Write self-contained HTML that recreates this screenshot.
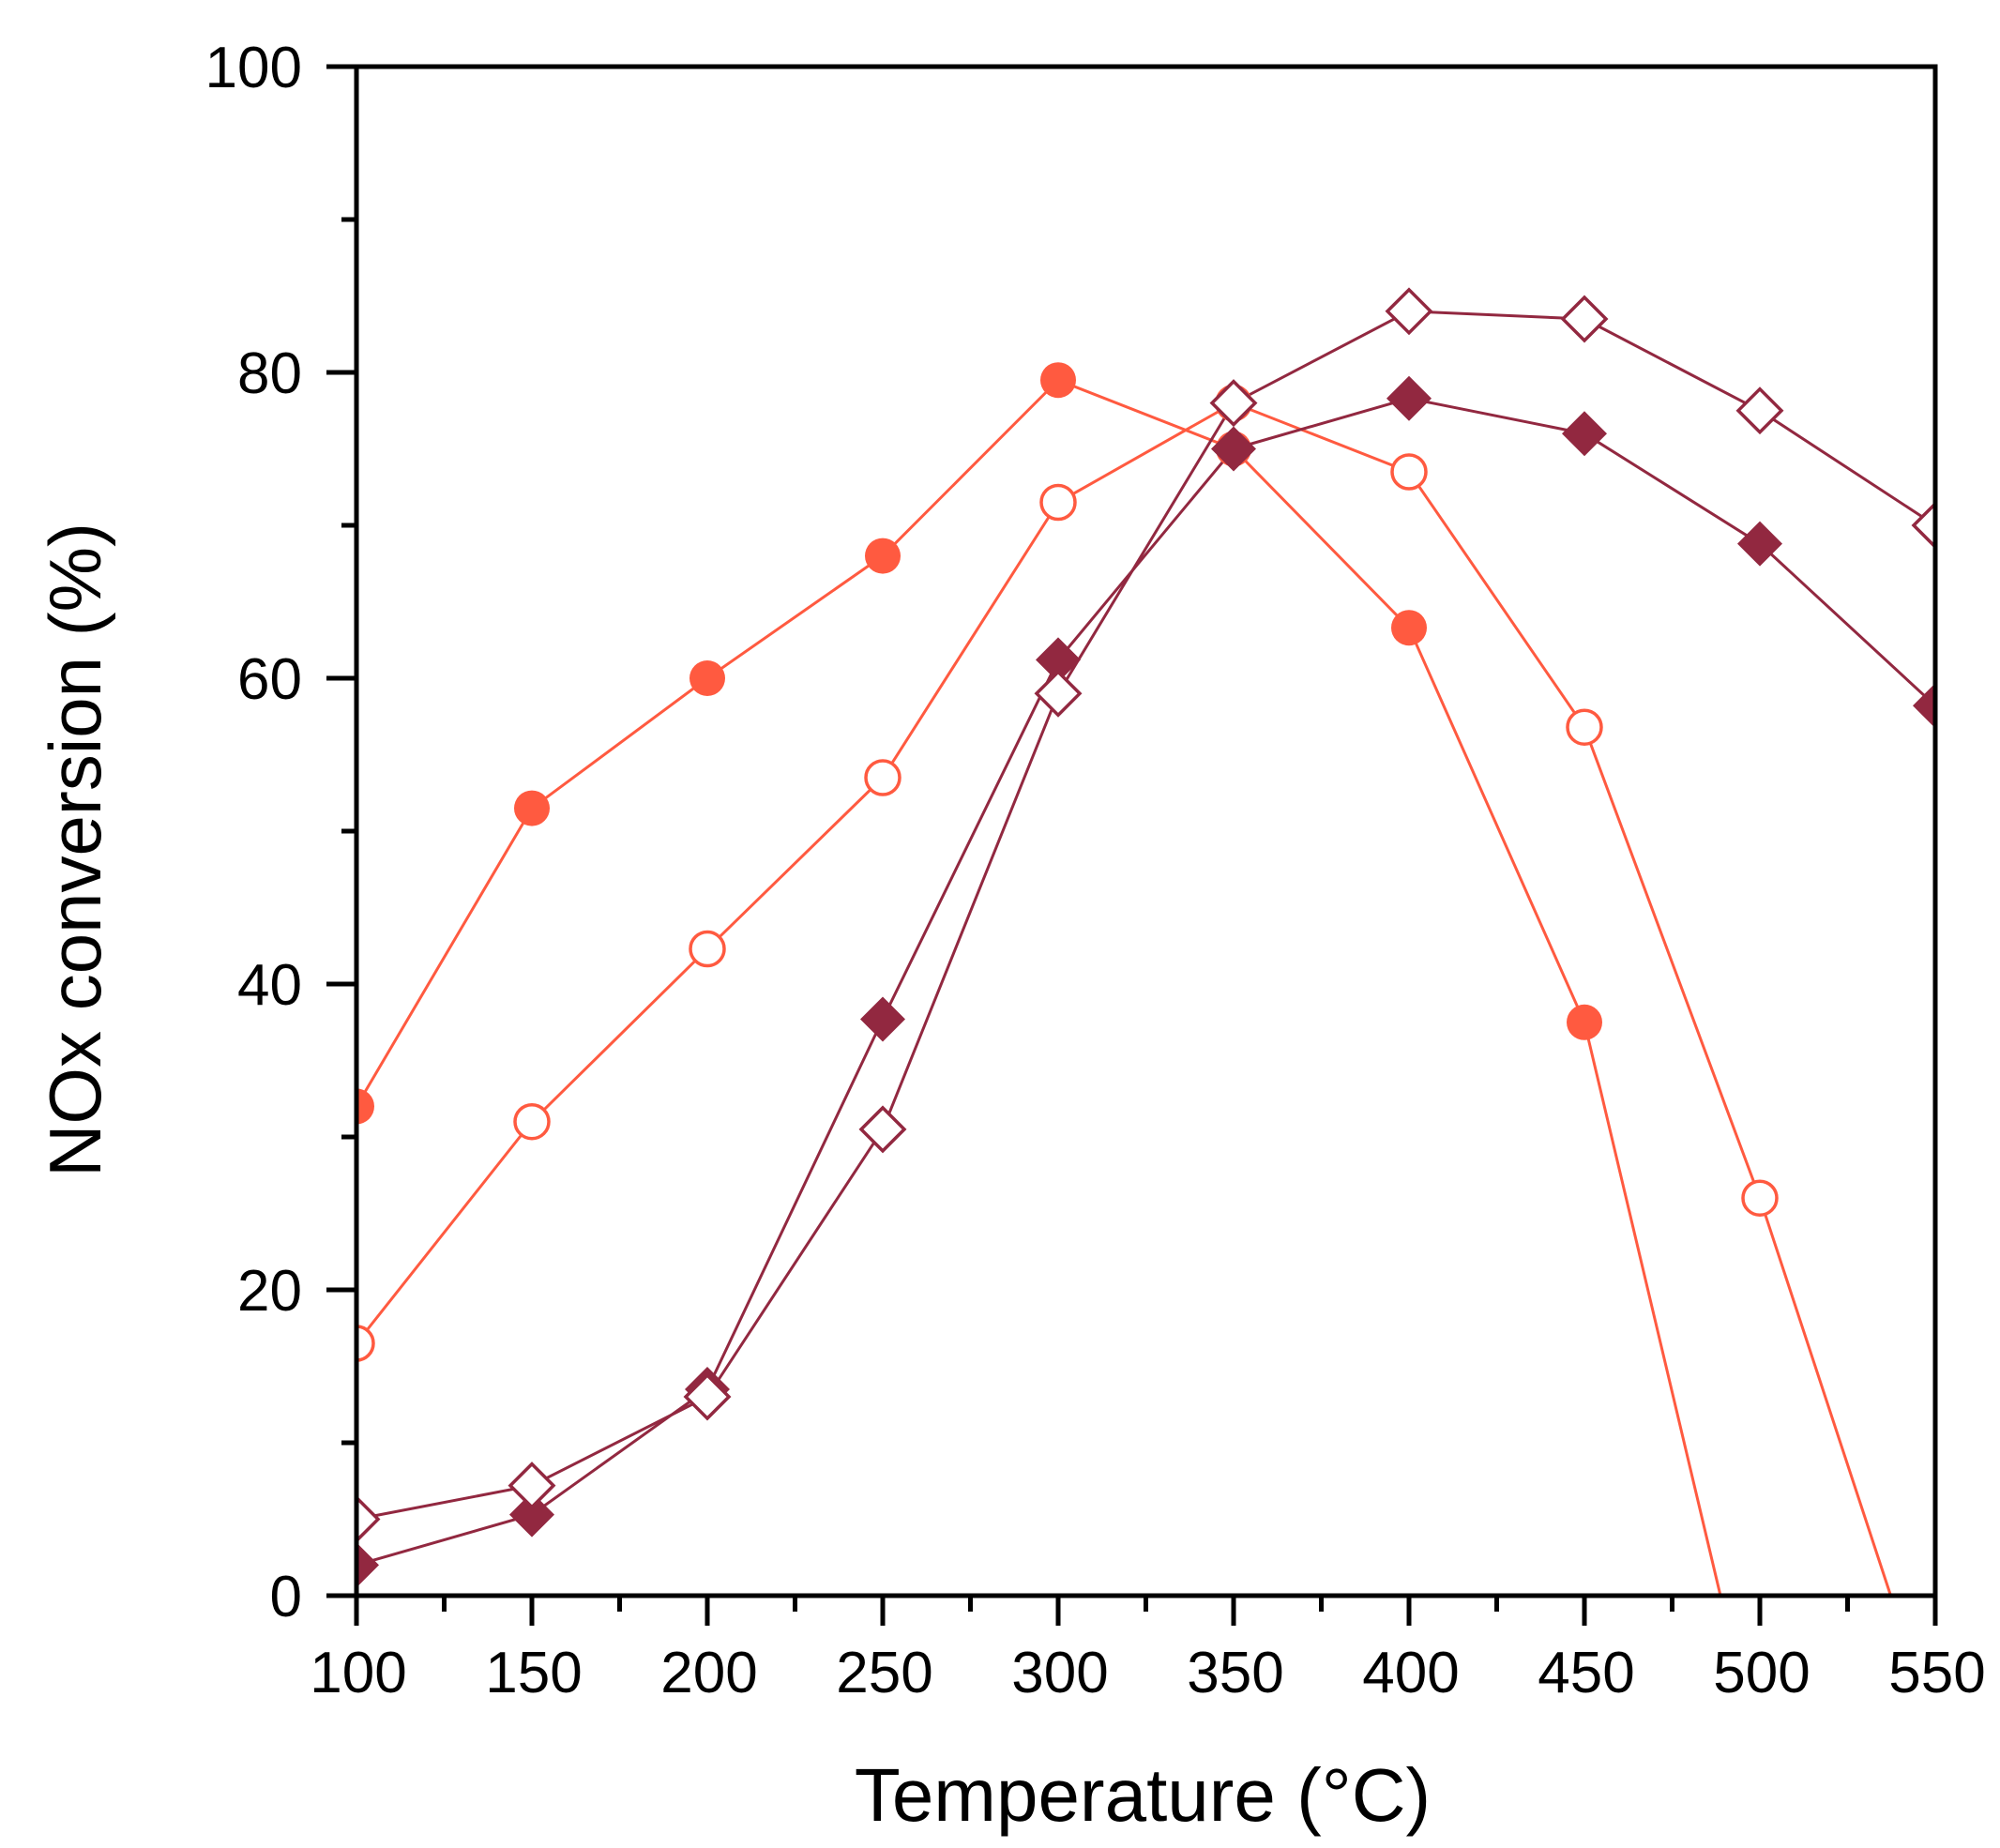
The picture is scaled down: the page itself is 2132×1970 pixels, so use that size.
<!DOCTYPE html>
<html><head><meta charset="utf-8"><style>html,body{margin:0;padding:0;background:#fff}svg{display:block}</style></head>
<body>
<svg width="2132" height="1970" viewBox="0 0 2132 1970" xmlns="http://www.w3.org/2000/svg" font-family="Liberation Sans, Arial, sans-serif">
<defs>
<clipPath id="pc"><rect x="380" y="71" width="1683" height="1630"/></clipPath>
</defs>
<g clip-path="url(#pc)" stroke-width="3" fill="none">
<polyline stroke="#FF5A40" points="380,1179.4 567,861.6 754,723 941,592.6 1128,405.2 1315,478.5 1502,669.2 1689,1089.8 1834,1701 1870,1850"/>
<polyline stroke="#FF5A40" points="380,1432 567,1195.7 754,1011.5 941,829 1128,535.5 1315,429.6 1502,503 1689,775.2 1876,1277.2 2015.5,1701 2050,1810"/>
<polyline stroke="#922840" points="380,1668.4 567,1614.6 754,1481 941,1086.5 1128,703.4 1315,478.5 1502,424.7 1689,462.2 1876,579.6 2063,752.3"/>
<polyline stroke="#922840" points="380,1619.5 567,1583.6 754,1489 941,1203.9 1128,739.3 1315,429.6 1502,331.8 1689,340 1876,437.7 2063,560"/>
<g fill="#FF5A40">
<circle cx="380" cy="1179.4" r="19"/><circle cx="567" cy="861.6" r="19"/><circle cx="754" cy="723" r="19"/><circle cx="941" cy="592.6" r="19"/><circle cx="1128" cy="405.2" r="19"/><circle cx="1315" cy="478.5" r="19"/><circle cx="1502" cy="669.2" r="19"/><circle cx="1689" cy="1089.8" r="19"/>
</g>
<g fill="#fff" stroke="#FF5A40" stroke-width="3.5">
<circle cx="380" cy="1432" r="18"/><circle cx="567" cy="1195.7" r="18"/><circle cx="754" cy="1011.5" r="18"/><circle cx="941" cy="829" r="18"/><circle cx="1128" cy="535.5" r="18"/><circle cx="1315" cy="429.6" r="18"/><circle cx="1502" cy="503" r="18"/><circle cx="1689" cy="775.2" r="18"/><circle cx="1876" cy="1277.2" r="18"/>
</g>
<g fill="#922840">
<path d="M380,1644.4l24,24l-24,24l-24,-24z"/><path d="M567,1590.6l24,24l-24,24l-24,-24z"/><path d="M754,1457l24,24l-24,24l-24,-24z"/><path d="M941,1062.5l24,24l-24,24l-24,-24z"/><path d="M1128,679.4l24,24l-24,24l-24,-24z"/><path d="M1315,454.5l24,24l-24,24l-24,-24z"/><path d="M1502,400.7l24,24l-24,24l-24,-24z"/><path d="M1689,438.2l24,24l-24,24l-24,-24z"/><path d="M1876,555.6l24,24l-24,24l-24,-24z"/><path d="M2063,728.3l24,24l-24,24l-24,-24z"/>
</g>
<g fill="#fff" stroke="#922840" stroke-width="3.5">
<path d="M380,1596.5l23,23l-23,23l-23,-23z"/><path d="M567,1560.6l23,23l-23,23l-23,-23z"/><path d="M754,1466l23,23l-23,23l-23,-23z"/><path d="M941,1180.9l23,23l-23,23l-23,-23z"/><path d="M1128,716.3l23,23l-23,23l-23,-23z"/><path d="M1315,406.6l23,23l-23,23l-23,-23z"/><path d="M1502,308.8l23,23l-23,23l-23,-23z"/><path d="M1689,317l23,23l-23,23l-23,-23z"/><path d="M1876,414.7l23,23l-23,23l-23,-23z"/><path d="M2063,537l23,23l-23,23l-23,-23z"/>
</g>
</g>
<g stroke="#000" stroke-width="5" fill="none">
<rect x="380" y="71" width="1683" height="1630"/>
<path d="M348,71h32M348,397h32M348,723h32M348,1049h32M348,1375h32M348,1701h32"/>
<path d="M364,234h16M364,560h16M364,886h16M364,1212h16M364,1538h16"/>
<path d="M380,1701v32M567,1701v32M754,1701v32M941,1701v32M1128,1701v32M1315,1701v32M1502,1701v32M1689,1701v32M1876,1701v32M2063,1701v32"/>
<path d="M473.5,1701v17M660.5,1701v17M847.5,1701v17M1034.5,1701v17M1221.5,1701v17M1408.5,1701v17M1595.5,1701v17M1782.5,1701v17M1969.5,1701v17"/>
</g>
<g font-size="62" fill="#000" text-anchor="end">
<text x="322" y="93">100</text><text x="322" y="419">80</text><text x="322" y="745">60</text><text x="322" y="1071">40</text><text x="322" y="1397">20</text><text x="322" y="1723">0</text>
</g>
<g font-size="62" fill="#000" text-anchor="middle">
<text x="382" y="1804">100</text><text x="569" y="1804">150</text><text x="756" y="1804">200</text><text x="943" y="1804">250</text><text x="1130" y="1804">300</text><text x="1317" y="1804">350</text><text x="1504" y="1804">400</text><text x="1691" y="1804">450</text><text x="1878" y="1804">500</text><text x="2065" y="1804">550</text>
</g>
<text x="1218" y="1941" font-size="80" text-anchor="middle" fill="#000">Temperature (°C)</text>
<text transform="translate(107,906) rotate(-90)" font-size="78" text-anchor="middle" fill="#000">NOx conversion (%)</text>
</svg>
</body></html>
